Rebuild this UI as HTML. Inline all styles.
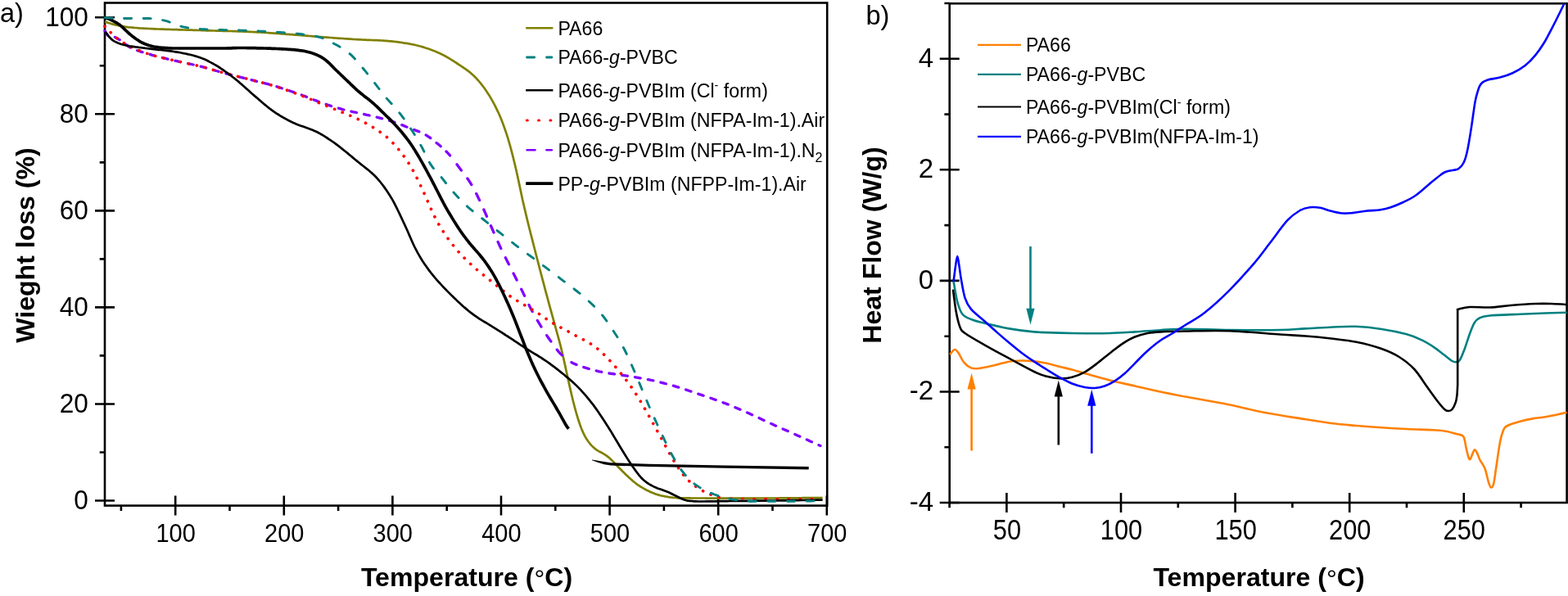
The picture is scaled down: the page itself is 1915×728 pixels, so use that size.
<!DOCTYPE html>
<html lang="en"><head><meta charset="utf-8"><title>TGA and DSC curves</title>
<style>
html,body{margin:0;padding:0;background:#fff;}
body{width:1915px;height:728px;overflow:hidden;}
svg{display:block;font-family:"Liberation Sans",Arial,Helvetica,sans-serif;}
.tk{font-size:29px;fill:#000;}
.lg{font-size:23.15px;fill:#000;}
.ti{font-size:32.1px;font-weight:bold;fill:#000;}
.ax{stroke:#000;stroke-width:2.6;fill:none;stroke-linecap:butt;}
.c{fill:none;stroke-linejoin:round;}
</style></head><body>
<svg width="1915" height="728" viewBox="0 0 1915 728">
<rect width="1915" height="728" fill="#fff"/>
<g id="panel-a">
<rect class="ax" x="128.0" y="3.5" width="882.2" height="614.1"/>
<path class="ax" d="M214.2 605.6 V629.6M346.8 605.6 V629.6M479.4 605.6 V629.6M612.0 605.6 V629.6M744.6 605.6 V629.6M877.2 605.6 V629.6M1009.8 605.6 V629.6M147.9 617.6 V623.9M280.5 617.6 V623.9M413.1 617.6 V623.9M545.7 617.6 V623.9M678.3 617.6 V623.9M810.9 617.6 V623.9M943.5 617.6 V623.9M116.0 611.5 H140.0M116.0 493.5 H140.0M116.0 375.4 H140.0M116.0 257.4 H140.0M116.0 139.3 H140.0M116.0 21.3 H140.0M121.7 552.5 H128.0M121.7 434.4 H128.0M121.7 316.4 H128.0M121.7 198.4 H128.0M121.7 80.3 H128.0"/>
<path class="c" d="M128 26.6L130 27.1L132 27.7L134 28.4L136 29.1L138 29.6L140 30.1L142 30.6L144 31.0L146 31.5L148 31.8L150 32.2L152 32.5L154 32.8L156 33.1L158 33.3L160 33.5L162 33.7L164 33.9L166 34.0L168 34.2L170 34.3L172 34.5L174 34.6L176 34.7L178 34.8L180 34.9L182 35.0L184 35.1L186 35.2L188 35.3L190 35.4L192 35.5L194 35.5L196 35.6L198 35.7L200 35.7L202.1 35.8L204.1 35.9L206.1 35.9L208.1 36.0L210.1 36.1L212.1 36.1L214.1 36.2L216.1 36.2L218.1 36.3L220.1 36.4L222.1 36.4L224.1 36.5L226.1 36.5L228.1 36.6L230.1 36.6L232.1 36.7L234.1 36.7L236.1 36.8L238.1 36.9L240.1 36.9L242.1 37.0L244.1 37.0L246.1 37.1L248.1 37.1L250.1 37.2L252.1 37.3L254.1 37.3L256.1 37.4L258.1 37.4L260.1 37.5L262.1 37.5L264.1 37.6L266.1 37.6L268.1 37.7L270.1 37.7L272.1 37.8L274.1 37.8L276.1 37.9L278.1 37.9L280.1 38.0L282.1 38.0L284.1 38.1L286.1 38.2L288.1 38.2L290.1 38.3L292.1 38.3L294.1 38.4L296.1 38.5L298.1 38.6L300.1 38.6L302.1 38.7L304.1 38.8L306.1 38.9L308.1 39.0L310.1 39.1L312.1 39.2L314.1 39.3L316.1 39.4L318.1 39.5L320.1 39.6L322.1 39.7L324.1 39.9L326.1 40.0L328.1 40.1L330.1 40.3L332.1 40.4L334.1 40.6L336.1 40.7L338.1 40.9L340.1 41.0L342.1 41.2L344.1 41.3L346.1 41.5L348.2 41.6L350.2 41.8L352.2 41.9L354.2 42.1L356.2 42.2L358.2 42.4L360.2 42.6L362.2 42.7L364.2 42.9L366.2 43.0L368.2 43.2L370.2 43.3L372.2 43.5L374.2 43.6L376.2 43.8L378.2 44.0L380.2 44.1L382.2 44.3L384.2 44.5L386.2 44.6L388.2 44.8L390.2 45.0L392.2 45.1L394.2 45.3L396.2 45.4L398.2 45.6L400.2 45.7L402.2 45.9L404.2 46.0L406.2 46.2L408.2 46.3L410.2 46.5L412.2 46.6L414.2 46.8L416.2 46.9L418.2 47.0L420.2 47.2L422.2 47.3L424.2 47.4L426.2 47.6L428.2 47.7L430.2 47.8L432.2 48.0L434.2 48.1L436.2 48.2L438.2 48.3L440.2 48.4L442.2 48.5L444.2 48.6L446.2 48.7L448.2 48.8L450.2 48.9L452.2 48.9L454.2 49.0L456.2 49.1L458.2 49.2L460.2 49.2L462.2 49.3L464.2 49.4L466.2 49.5L468.2 49.6L470.2 49.8L472.2 49.9L474.2 50.1L476.2 50.3L478.2 50.4L480.2 50.7L482.2 50.9L484.2 51.1L486.2 51.4L488.2 51.7L490.2 51.9L492.2 52.3L494.3 52.6L496.3 52.9L498.3 53.2L500.3 53.6L502.3 54.0L504.3 54.4L506.3 54.8L508.3 55.3L510.3 55.7L512.3 56.3L514.3 56.8L516.3 57.4L518.3 58.0L520.3 58.7L522.3 59.3L524.3 60.0L526.3 60.7L528.3 61.5L530.3 62.2L532.3 63.0L534.3 63.9L536.3 64.7L538.3 65.7L540.3 66.7L542.3 67.7L544.3 68.8L546.3 70.0L548.3 71.2L550.3 72.4L552.3 73.6L554.3 74.9L556.3 76.2L558.3 77.5L560.3 78.8L562.3 80.1L564.3 81.5L566.3 82.8L568.3 84.2L570.3 85.7L572.3 87.2L574.3 88.7L576.3 90.4L578.3 92.2L580.3 94.2L582.3 96.3L584.3 98.5L586.3 100.9L588.3 103.4L590.3 106.0L592.3 108.8L594.3 111.7L596.3 114.7L598.3 117.9L600.3 121.3L602.3 124.9L604.3 128.6L606.3 132.6L608.3 136.8L610.3 141.3L612.3 146.1L614.3 151.3L616.3 156.8L618.3 162.6L620.3 168.9L622.3 175.6L624.3 182.8L626.3 190.6L628.3 198.8L630.3 207.3L632.3 216.3L634.3 225.6L636.3 235.1L638.3 244.5L640.4 253.5L642.4 262.1L644.4 270.4L646.4 278.5L648.4 286.4L650.4 294.2L652.4 302.0L654.4 309.8L656.4 317.5L658.4 325.3L660.4 333.0L662.4 340.6L664.4 348.2L666.4 355.8L668.4 363.2L670.4 370.6L672.4 377.9L674.4 385.2L676.4 392.4L678.4 399.6L680.4 406.8L682.4 414.1L684.4 421.7L686.4 429.8L688.4 438.5L690.4 447.6L692.4 456.9L694.4 466.0L696.4 474.9L698.4 483.5L700.4 491.7L702.4 499.4L704.4 506.5L706.4 513.0L708.4 519.0L710.4 524.3L712.4 528.9L714.4 532.9L716.4 536.3L718.4 539.2L720.4 541.8L722.4 544.1L724.4 546.1L726.4 547.8L728.4 549.3L730.4 550.6L732.4 551.8L734.4 552.8L736.4 553.9L738.4 555.1L740.4 556.4L742.4 557.9L744.4 559.5L746.4 561.4L748.4 563.4L750.4 565.4L752.4 567.5L754.4 569.7L756.4 571.8L758.4 573.8L760.4 575.8L762.4 577.7L764.4 579.7L766.4 581.6L768.4 583.5L770.4 585.3L772.4 587.1L774.4 588.7L776.4 590.3L778.4 591.8L780.4 593.2L782.4 594.5L784.4 595.7L786.5 596.9L788.5 598.0L790.5 599.1L792.5 600.0L794.5 600.9L796.5 601.8L798.5 602.6L800.5 603.4L802.5 604.0L804.5 604.6L806.5 605.2L808.5 605.6L810.5 606.0L812.5 606.4L814.5 606.7L816.5 607.1L818.5 607.4L820.5 607.6L822.5 607.9L824.5 608.0L826.5 608.2L828.5 608.3L830.5 608.3L832.5 608.3L834.5 608.4L836.5 608.4L838.5 608.4L840.5 608.4L842.5 608.4L844.5 608.5L846.5 608.5L848.5 608.5L850.5 608.5L852.5 608.5L854.5 608.5L856.5 608.5L858.5 608.5L860.5 608.5L862.5 608.6L864.5 608.6L866.5 608.6L868.5 608.6L870.5 608.6L872.5 608.6L874.5 608.6L876.5 608.6L878.5 608.6L880.5 608.6L882.5 608.6L884.5 608.6L886.5 608.6L888.5 608.6L890.5 608.6L892.5 608.6L894.5 608.6L896.5 608.6L898.5 608.6L900.5 608.6L902.5 608.6L904.5 608.6L906.5 608.6L908.5 608.6L910.5 608.6L912.5 608.6L914.5 608.6L916.5 608.6L918.5 608.6L920.5 608.6L922.5 608.6L924.5 608.6L926.5 608.5L928.5 608.5L930.5 608.5L932.6 608.5L934.6 608.5L936.6 608.5L938.6 608.5L940.6 608.5L942.6 608.5L944.6 608.5L946.6 608.5L948.6 608.5L950.6 608.5L952.6 608.4L954.6 608.4L956.6 608.4L958.6 608.4L960.6 608.4L962.6 608.4L964.6 608.4L966.6 608.4L968.6 608.3L970.6 608.3L972.6 608.3L974.6 608.3L976.6 608.3L978.6 608.3L980.6 608.2L982.6 608.2L984.6 608.2L986.6 608.2L988.6 608.2L990.6 608.2L992.6 608.1L994.6 608.1L996.6 608.1L998.6 608.1L1000.6 608.0L1002.6 608.0L1004.6 608.0" stroke="#808000" stroke-width="2.7"/>
<path class="c" d="M128.0 37.6L130.0 41.1L132.0 43.8L134.0 44.6L136.0 44.6L138.0 44.6L140.0 45.2L142.0 46.2L144.0 47.4L146.0 48.6L148.0 50.0L150.0 51.5L152.0 53.0L154.0 54.5L156.0 56.0L158.0 57.3L160.0 58.4L162.0 59.3L164.0 60.2L166.0 61.0L168.0 61.8L170.0 62.5L172.0 63.1L174.0 63.7L176.0 64.4L178.0 65.0L180.0 65.6L182.0 66.1L184.0 66.7L186.0 67.3L188.0 67.8L190.0 68.4L192.0 68.9L194.0 69.4L196.0 69.9L198.0 70.4L200.0 70.9L202.0 71.4L204.0 71.8L206.0 72.3L208.0 72.8L210.0 73.3L212.0 73.7L214.0 74.2L216.0 74.6L218.0 75.1L220.0 75.5L222.0 76.0L224.0 76.4L226.0 76.8L228.0 77.2L230.0 77.7L232.0 78.1L234.0 78.5L236.0 79.0L238.0 79.4L240.0 79.9L242.0 80.4L244.0 80.9L246.0 81.4L248.0 81.9L250.0 82.4L252.0 83.0L254.0 83.6L256.0 84.1L258.0 84.7L260.0 85.3L262.0 85.9L264.0 86.5L266.0 87.0L268.0 87.6L270.0 88.2L272.0 88.7L274.0 89.2L276.0 89.8L278.0 90.3L280.0 90.8L282.0 91.3L284.0 91.8L286.0 92.3L288.0 92.8L290.0 93.3L292.0 93.8L294.0 94.3L296.0 94.8L298.0 95.3L300.0 95.8L302.0 96.3L304.0 96.8L306.0 97.4L308.0 97.9L310.0 98.4L312.0 98.9L314.0 99.4L316.0 99.9L318.0 100.4L320.0 100.9L322.0 101.4L324.0 101.9L326.0 102.4L328.0 102.9L330.0 103.5L332.0 104.0L334.0 104.6L336.0 105.2L338.0 105.8L340.0 106.4L342.0 107.0L344.0 107.7L346.0 108.3L348.0 109.0L350.0 109.6L352.0 110.3L354.0 111.0L356.0 111.7L358.0 112.4L360.0 113.1L362.0 113.8L364.0 114.5L366.0 115.2L368.0 115.9L370.0 116.7L372.0 117.4L374.0 118.2L376.0 119.0L378.0 119.8L380.0 120.6L382.0 121.4L384.0 122.2L386.0 122.9L388.0 123.7L390.0 124.5L392.0 125.2L394.0 125.9L396.0 126.6L398.0 127.3L400.0 128.0L402.0 128.7L404.0 129.3L406.0 129.9L408.0 130.6L410.0 131.2L412.0 131.8L414.0 132.3L416.0 132.9L418.0 133.5L420.0 134.0L422.0 134.5L424.0 135.0L426.0 135.4L428.0 135.9L430.0 136.3L432.0 136.8L434.0 137.2L436.0 137.6L438.0 138.1L440.0 138.5L442.0 138.9L444.0 139.4L446.0 139.8L448.0 140.3L450.0 140.7L452.0 141.2L454.0 141.7L456.0 142.2L458.0 142.6L460.0 143.1L462.0 143.6L464.0 144.2L466.0 144.7L468.0 145.2L470.0 145.8L472.0 146.4L474.0 146.9L476.0 147.5L478.0 148.2L480.0 148.8L482.0 149.4L484.0 150.1L486.0 150.8L488.0 151.6L490.0 152.3L492.0 153.1L494.0 153.9L496.0 154.8L498.0 155.6L500.0 156.4L502.0 157.2L504.0 157.9L506.0 158.6L508.0 159.4L510.0 160.1L512.0 160.9L514.0 161.7L516.0 162.6L518.0 163.6L520.0 164.8L522.0 166.1L524.0 167.4L526.0 168.9L528.0 170.4L530.0 172.0L532.0 173.6L534.0 175.2L536.0 176.8L538.0 178.5L540.0 180.3L542.0 182.1L544.0 184.0L546.0 186.0L548.0 188.2L550.0 190.4L552.0 192.9" stroke="#8000ff" stroke-width="3.3" stroke-linecap="round" stroke-dasharray="6.7 9.3"/>
<path class="c" d="M558.0 200.8L560.0 203.6L562.0 206.3L564.0 209.0L566.0 211.6L568.0 214.2L570.0 216.9L572.0 219.6L574.0 222.6L576.0 225.8L578.0 229.3L580.0 233.1L582.0 237.1L584.0 241.2L586.0 245.4L588.0 249.7L590.0 254.1L592.0 258.6L594.0 263.2L596.0 267.8L598.0 272.4L600.0 277.0L602.0 281.6L604.0 286.1L606.0 290.7L608.0 295.2L610.0 299.6L612.0 303.9L614.0 308.0L616.0 312.1L618.0 316.1L620.0 320.0L622.0 323.9L624.0 327.8L626.0 331.8L628.0 335.8L630.0 339.8L632.0 343.8L634.0 347.8L636.0 351.8L638.0 355.9L640.0 360.1L642.0 364.3L644.0 368.4L646.0 372.5L648.0 376.5L650.0 380.2L652.0 383.9L654.0 387.4L656.0 390.9L658.0 394.2L660.0 397.5L662.0 400.8L664.0 403.9L666.0 407.0L668.0 410.1L670.0 413.0L672.0 415.9L674.0 418.7L676.0 421.5L678.0 424.2L680.0 426.8L682.0 429.3L684.0 431.6L686.0 433.6L688.0 435.5L690.0 437.2" stroke="#8000ff" stroke-width="3.3" stroke-linecap="round" stroke-dasharray="9 12.5"/>
<path class="c" d="M698.0 442.6L700.0 443.7L702.0 444.6L704.0 445.4L706.0 446.2L708.0 446.9L710.0 447.6L712.0 448.3L714.0 448.9L716.0 449.5L718.0 450.1L720.0 450.7L722.0 451.2L724.0 451.8L726.0 452.3L728.0 452.8L730.0 453.3L732.0 453.8L734.0 454.2L736.0 454.6L738.0 455.0L740.0 455.3L742.0 455.6L744.0 456.0L746.0 456.3L748.0 456.5L750.0 456.8L752.0 457.1L754.0 457.4L756.0 457.7L758.0 458.0L760.0 458.3L762.0 458.6L764.0 458.9L766.0 459.2L768.0 459.5L770.0 459.8L772.0 460.2L774.0 460.5L776.0 460.8L778.0 461.1L780.0 461.5L782.0 461.8L784.0 462.1L786.0 462.5L788.0 462.9L790.0 463.3L792.0 463.7L794.0 464.1L796.0 464.5L798.0 464.9L800.0 465.4L802.0 465.9L804.0 466.3L806.0 466.8L808.0 467.3L810.0 467.8L812.0 468.4L814.0 468.9L816.0 469.5L818.0 470.0L820.0 470.6L822.0 471.1L824.0 471.7L826.0 472.3L828.0 472.9L830.0 473.5L832.0 474.1L834.0 474.8L836.0 475.4L838.0 476.1L840.0 476.8L842.0 477.5L844.0 478.1L846.0 478.8L848.0 479.5L850.0 480.2L852.0 480.9L854.0 481.6L856.0 482.2L858.0 482.9L860.0 483.6L862.0 484.3L864.0 485.0L866.0 485.6L868.0 486.3L870.0 487.0L872.0 487.7L874.0 488.4L876.0 489.1L878.0 489.9L880.0 490.6L882.0 491.3L884.0 492.1L886.0 492.8L888.0 493.6L890.0 494.4L892.0 495.2L894.0 496.0L896.0 496.9L898.0 497.7L900.0 498.5L902.0 499.4L904.0 500.2L906.0 501.1L908.0 502.0L910.0 502.8L912.0 503.7L914.0 504.6L916.0 505.5L918.0 506.4L920.0 507.3L922.0 508.2L924.0 509.1L926.0 510.0L928.0 511.0L930.0 511.9L932.0 512.9L934.0 513.8L936.0 514.7L938.0 515.7L940.0 516.6L942.0 517.6L944.0 518.5L946.0 519.4L948.0 520.3L950.0 521.2L952.0 522.1L954.0 523.0L956.0 523.9L958.0 524.8L960.0 525.6L962.0 526.5L964.0 527.4L966.0 528.3L968.0 529.2L970.0 530.1L972.0 531.0L974.0 531.9L976.0 532.8L978.0 533.7L980.0 534.6L982.0 535.5L984.0 536.4L986.0 537.3L988.0 538.2L990.0 539.2L992.0 540.1L994.0 541.0L996.0 541.9L998.0 542.9L1000.0 543.7L1002.0 544.5" stroke="#8000ff" stroke-width="3.3" stroke-linecap="round" stroke-dasharray="6.7 9.3"/>
<path class="c" d="M128.0 32.1L130.0 33.8L132.0 36.0L134.0 38.3L136.0 40.5L138.0 42.4L140.0 44.2L142.0 46.0L144.0 47.6L146.0 49.1L148.0 50.5L150.0 51.7L152.0 53.0L154.0 54.1L156.0 55.2L158.0 56.3L160.0 57.3L162.0 58.2L164.0 59.2L166.0 60.1L168.0 61.0L170.0 61.8L172.0 62.6L174.0 63.4L176.0 64.1L178.0 64.8L180.0 65.5L182.0 66.1L184.0 66.8L186.0 67.4L188.0 67.9L190.0 68.5L192.0 69.0L194.0 69.5L196.0 70.0L198.0 70.5L200.0 71.0L202.0 71.4L204.0 71.9L206.0 72.3L208.0 72.8L210.0 73.3L212.0 73.7L214.0 74.2L216.0 74.6L218.0 75.1L220.0 75.5L222.0 76.0L224.0 76.4L226.0 76.8L228.0 77.2L230.0 77.7L232.0 78.1L234.0 78.5L236.0 79.0L238.0 79.4L240.0 79.9L242.0 80.4L244.0 80.9L246.0 81.4L248.0 81.9L250.0 82.4L252.0 83.0L254.0 83.6L256.0 84.1L258.0 84.7L260.0 85.3L262.0 85.9L264.0 86.5L266.0 87.0L268.0 87.6L270.0 88.2L272.0 88.7L274.0 89.2L276.0 89.8L278.0 90.3L280.0 90.8L282.0 91.3L284.0 91.8L286.0 92.3L288.0 92.8L290.0 93.3L292.0 93.8L294.0 94.3L296.0 94.8L298.0 95.3L300.0 95.8L302.0 96.3L304.0 96.8L306.0 97.4L308.0 97.9L310.0 98.4L312.0 98.9L314.0 99.4L316.0 99.9L318.0 100.4L320.0 100.9L322.0 101.5L324.0 102.0L326.0 102.5L328.0 103.1L330.0 103.6L332.0 104.2L334.0 104.8L336.0 105.4L338.0 106.0L340.0 106.6L342.0 107.3L344.0 108.0L346.0 108.6L348.0 109.3L350.0 110.0L352.0 110.7L354.0 111.5L356.0 112.2L358.0 112.9L360.0 113.7L362.0 114.4L364.0 115.2L366.0 115.9L368.0 116.7L370.0 117.5L372.0 118.2L374.0 119.0L376.0 119.9L378.0 120.7L380.0 121.5L382.0 122.3L384.0 123.2L386.0 124.0L388.0 124.9L390.0 125.7L392.0 126.5L394.0 127.4L396.0 128.2L398.0 129.0L400.0 129.8L402.0 130.6L404.0 131.4L406.0 132.2L408.0 133.1L410.0 133.9L412.0 134.7L414.0 135.5L416.0 136.3L418.0 137.2L420.0 138.0L422.0 138.8L424.0 139.7L426.0 140.5L428.0 141.4L430.0 142.2L432.0 143.1L434.0 144.0L436.0 144.9L438.0 145.9L440.0 146.8L442.0 147.8L444.0 148.9L446.0 150.0L448.0 151.1L450.0 152.2L452.0 153.4L454.0 154.6L456.0 155.8L458.0 157.0L460.0 158.3L462.0 159.6L464.0 161.0L466.0 162.4L468.0 163.9L470.0 165.4L472.0 167.1L474.0 168.9L476.0 170.8L478.0 172.7L480.0 174.8L482.0 177.0L484.0 179.2L486.0 181.6L488.0 184.0L490.0 186.5L492.0 189.1L494.0 191.8L496.0 194.6L498.0 197.6L500.0 200.7L502.0 204.0L504.0 207.5L506.0 211.2L508.0 215.1L510.0 219.1L512.0 223.3L514.0 227.5L516.0 231.7L518.0 236.1L520.0 240.5L522.0 245.1L524.0 249.7L526.0 254.2L528.0 258.7L530.0 262.9L532.0 266.9L534.0 270.7L536.0 274.2L538.0 277.6L540.0 280.8L542.0 283.9L544.0 287.0L546.0 289.8L548.0 292.6L550.0 295.3L552.0 297.9L554.0 300.4L556.0 302.8L558.0 305.2L560.0 307.5L562.0 309.7L564.0 311.8L566.0 313.9L568.0 316.0L570.0 318.0L572.0 319.9L574.0 321.8L576.0 323.7L578.0 325.5L580.0 327.3L582.0 329.0L584.0 330.6L586.0 332.3L588.0 333.9L590.0 335.5L592.0 337.1L594.0 338.7L596.0 340.3L598.0 341.9L600.0 343.5L602.0 345.1L604.0 346.7L606.0 348.3L608.0 349.9L610.0 351.5L612.0 353.1L614.0 354.7L616.0 356.4L618.0 358.0L620.0 359.6L622.0 361.1L624.0 362.5L626.0 363.9L628.0 365.2L630.0 366.4L632.0 367.6L634.0 368.8L636.0 370.0L638.0 371.1L640.0 372.3L642.0 373.5L644.0 374.7L646.0 375.8L648.0 377.0L650.0 378.2L652.0 379.4L654.0 380.7L656.0 381.9L658.0 383.2L660.0 384.5L662.0 385.9L664.0 387.3L666.0 388.7L668.0 390.0L670.0 391.4L672.0 392.6L674.0 393.9L676.0 395.1L678.0 396.3L680.0 397.4L682.0 398.5L684.0 399.6L686.0 400.7L688.0 401.7L690.0 402.8L692.0 403.9L694.0 404.9L696.0 406.0L698.0 407.1L700.0 408.2L702.0 409.3L704.0 410.4L706.0 411.4L708.0 412.5L710.0 413.5L712.0 414.6L714.0 415.7L716.0 416.8L718.0 417.9L720.0 419.1L722.0 420.4L724.0 421.7L726.0 423.1L728.0 424.6L730.0 426.2L732.0 427.9L734.0 429.7L736.0 431.6L738.0 433.5L740.0 435.5L742.0 437.5L744.0 439.6L746.0 441.7L748.0 443.9L750.0 446.2L752.0 448.5L754.0 450.8L756.0 453.2L758.0 455.7L760.0 458.1L762.0 460.7L764.0 463.2L766.0 465.9L768.0 468.6L770.0 471.3L772.0 474.2L774.0 477.1L776.0 480.1L778.0 483.2L780.0 486.4L782.0 489.7L784.0 493.1L786.0 496.6L788.0 500.1L790.0 503.6L792.0 507.2L794.0 510.7L796.0 514.3L798.0 517.9L800.0 521.5L802.0 525.1L804.0 528.7L806.0 532.3L808.0 536.0L810.0 539.7L812.0 543.4L814.0 547.1L816.0 550.8L818.0 554.4L820.0 557.9L822.0 561.3L824.0 564.5L826.0 567.7L828.0 570.7L830.0 573.7L832.0 576.5L834.0 579.2L836.0 581.6L838.0 583.9L840.0 586.0L842.0 587.9L844.0 589.7L846.0 591.4L848.0 593.0L850.0 594.4L852.0 595.8L854.0 597.1L856.0 598.3L858.0 599.4L860.0 600.5L862.0 601.5L864.0 602.5L866.0 603.4L868.0 604.1L870.0 604.8L872.0 605.5L874.0 606.1L876.0 606.7L878.0 607.2L880.0 607.6" stroke="#f00" stroke-width="3.7" stroke-linecap="round" stroke-dasharray="0.1 10.3"/>
<path class="c" d="M892.0 608.7L894.0 608.8L896.0 608.8L898.0 608.9L900.0 609.0L902.0 609.0L904.0 609.1L906.0 609.1L908.0 609.1L910.0 609.2L912.0 609.2L914.0 609.2L916.0 609.2L918.0 609.2L920.0 609.2L922.0 609.2L924.0 609.2L926.0 609.2L928.0 609.2L930.0 609.2L932.0 609.2L934.0 609.2L936.0 609.2L938.0 609.2L940.0 609.2L942.0 609.2L944.0 609.2L946.0 609.2L948.0 609.2L950.0 609.2L952.0 609.2L954.0 609.2L956.0 609.2L958.0 609.2L960.0 609.2L962.0 609.2L964.0 609.2L966.0 609.2L968.0 609.2L970.0 609.2L972.0 609.2L974.0 609.2L976.0 609.2L978.0 609.2L980.0 609.2L982.0 609.2L984.0 609.2L986.0 609.2L988.0 609.2L990.0 609.2L992.0 609.2L994.0 609.2L996.0 609.2L998.0 609.2L1000.0 609.2L1002.0 609.2L1004.0 609.2" stroke="#f00" stroke-width="2.5" stroke-linecap="round" stroke-dasharray="1.6 12.5"/>
<path class="c" d="M128 38.6L130 40.7L132 43.4L134 45.8L136 47.8L138 49.3L140 50.6L142 51.6L144 52.5L146 53.3L148 54.0L150 54.5L152 55.0L154 55.5L156 55.9L158 56.3L160 56.6L162 56.9L164 57.2L166 57.5L168 57.7L170 58.0L172 58.2L174 58.5L176 58.7L178 59.0L180 59.2L182 59.5L184 59.7L186 59.9L188 60.2L190 60.4L192 60.6L194 60.8L196 61.0L198 61.2L200 61.5L202.1 61.7L204.1 61.9L206.1 62.2L208.1 62.4L210.1 62.7L212.1 63.0L214.1 63.3L216.1 63.6L218.1 63.9L220.1 64.3L222.1 64.7L224.1 65.1L226.1 65.5L228.1 65.9L230.1 66.4L232.1 66.8L234.1 67.3L236.1 67.8L238.1 68.4L240.1 68.9L242.1 69.6L244.1 70.2L246.1 70.9L248.1 71.7L250.1 72.6L252.1 73.5L254.1 74.5L256.1 75.6L258.1 76.6L260.1 77.7L262.1 78.9L264.1 80.0L266.1 81.2L268.1 82.5L270.1 83.8L272.1 85.2L274.1 86.6L276.1 88.0L278.1 89.4L280.1 90.9L282.1 92.4L284.1 94.0L286.1 95.5L288.1 97.1L290.1 98.7L292.1 100.4L294.1 102.2L296.1 103.9L298.1 105.7L300.1 107.5L302.1 109.3L304.1 111.1L306.1 112.9L308.1 114.7L310.1 116.4L312.1 118.1L314.1 119.8L316.1 121.6L318.1 123.3L320.1 125.0L322.1 126.7L324.1 128.4L326.1 130.0L328.1 131.6L330.1 133.2L332.1 134.7L334.1 136.1L336.1 137.5L338.1 138.8L340.1 140.0L342.1 141.3L344.1 142.5L346.1 143.7L348.2 144.8L350.2 145.9L352.2 147.0L354.2 148.0L356.2 149.0L358.2 149.9L360.2 150.8L362.2 151.7L364.2 152.5L366.2 153.2L368.2 153.9L370.2 154.6L372.2 155.3L374.2 156.0L376.2 156.7L378.2 157.4L380.2 158.2L382.2 159.0L384.2 159.9L386.2 160.8L388.2 161.8L390.2 162.9L392.2 164.0L394.2 165.2L396.2 166.4L398.2 167.7L400.2 169.0L402.2 170.3L404.2 171.6L406.2 173.0L408.2 174.4L410.2 175.9L412.2 177.4L414.2 178.9L416.2 180.5L418.2 182.1L420.2 183.7L422.2 185.3L424.2 186.9L426.2 188.6L428.2 190.2L430.2 191.9L432.2 193.6L434.2 195.2L436.2 196.9L438.2 198.5L440.2 200.1L442.2 201.7L444.2 203.3L446.2 204.9L448.2 206.4L450.2 208.0L452.2 209.7L454.2 211.4L456.2 213.3L458.2 215.2L460.2 217.3L462.2 219.6L464.2 222.0L466.2 224.5L468.2 227.1L470.2 229.9L472.2 232.8L474.2 235.8L476.2 238.9L478.2 242.2L480.2 245.7L482.2 249.5L484.2 253.4L486.2 257.5L488.2 261.7L490.2 265.9L492.2 270.2L494.3 274.6L496.3 279.0L498.3 283.5L500.3 288.1L502.3 292.7L504.3 297.2L506.3 301.5L508.3 305.4L510.3 309.1L512.3 312.6L514.3 316.0L516.3 319.2L518.3 322.2L520.3 325.1L522.3 327.9L524.3 330.6L526.3 333.2L528.3 335.7L530.3 338.1L532.3 340.5L534.3 342.8L536.3 345.0L538.3 347.2L540.3 349.4L542.3 351.5L544.3 353.5L546.3 355.6L548.3 357.6L550.3 359.6L552.3 361.6L554.3 363.5L556.3 365.4L558.3 367.4L560.3 369.2L562.3 371.1L564.3 372.9L566.3 374.7L568.3 376.4L570.3 378.1L572.3 379.8L574.3 381.4L576.3 382.9L578.3 384.4L580.3 385.9L582.3 387.2L584.3 388.6L586.3 389.9L588.3 391.1L590.3 392.3L592.3 393.5L594.3 394.7L596.3 395.9L598.3 397.1L600.3 398.4L602.3 399.6L604.3 400.8L606.3 402.1L608.3 403.4L610.3 404.6L612.3 405.9L614.3 407.2L616.3 408.5L618.3 409.8L620.3 411.0L622.3 412.3L624.3 413.6L626.3 414.9L628.3 416.3L630.3 417.6L632.3 418.9L634.3 420.3L636.3 421.6L638.3 422.9L640.4 424.3L642.4 425.6L644.4 426.8L646.4 428.1L648.4 429.4L650.4 430.6L652.4 431.8L654.4 433.0L656.4 434.2L658.4 435.5L660.4 436.7L662.4 438.0L664.4 439.3L666.4 440.6L668.4 442.0L670.4 443.4L672.4 444.9L674.4 446.3L676.4 447.8L678.4 449.4L680.4 450.9L682.4 452.5L684.4 454.1L686.4 455.7L688.4 457.3L690.4 459.0L692.4 460.6L694.4 462.3L696.4 464.0L698.4 465.8L700.4 467.6L702.4 469.4L704.4 471.4L706.4 473.4L708.4 475.4L710.4 477.6L712.4 479.8L714.4 482.1L716.4 484.4L718.4 486.8L720.4 489.3L722.4 491.8L724.4 494.4L726.4 497.1L728.4 499.9L730.4 502.7L732.4 505.7L734.4 508.7L736.4 511.7L738.4 514.8L740.4 517.9L742.4 521.0L744.4 524.2L746.4 527.4L748.4 530.7L750.4 534.1L752.4 537.5L754.4 540.8L756.4 544.2L758.4 547.5L760.4 550.8L762.4 554.0L764.4 557.2L766.4 560.4L768.4 563.5L770.4 566.6L772.4 569.5L774.4 572.3L776.4 575.1L778.4 577.8L780.4 580.4L782.4 582.7L784.4 584.8L786.5 586.7L788.5 588.3L790.5 589.8L792.5 591.1L794.5 592.3L796.5 593.4L798.5 594.4L800.5 595.3L802.5 596.2L804.5 596.9L806.5 597.6L808.5 598.3L810.5 599.0L812.5 599.8L814.5 600.5L816.5 601.3L818.5 602.2L820.5 603.2L822.5 604.3L824.5 605.3L826.5 606.3L828.5 607.3L830.5 608.3L832.5 609.2L834.5 610.1L836.5 610.8L838.5 611.3L840.5 611.6L842.5 611.8L844.5 612.0L846.5 612.2L848.5 612.3L850.5 612.4L852.5 612.5L854.5 612.5L856.5 612.5L858.5 612.5L860.5 612.5L862.5 612.4L864.5 612.4L866.5 612.4L868.5 612.4L870.5 612.3L872.5 612.3L874.5 612.3L876.5 612.2L878.5 612.2L880.5 612.2L882.5 612.1L884.5 612.1L886.5 612.1L888.5 612.1L890.5 612.0L892.5 612.0L894.5 612.0L896.5 612.0L898.5 612.0L900.5 611.9L902.5 611.9L904.5 611.9L906.5 611.9L908.5 611.9L910.5 611.8L912.5 611.8L914.5 611.8L916.5 611.8L918.5 611.8L920.5 611.8L922.5 611.7L924.5 611.7L926.5 611.7L928.5 611.7L930.5 611.7L932.6 611.6L934.6 611.6L936.6 611.6L938.6 611.6L940.6 611.6L942.6 611.5L944.6 611.5L946.6 611.5L948.6 611.5L950.6 611.4L952.6 611.4L954.6 611.4L956.6 611.4L958.6 611.3L960.6 611.3L962.6 611.3L964.6 611.3L966.6 611.2L968.6 611.2L970.6 611.2L972.6 611.1L974.6 611.1L976.6 611.1L978.6 611.0L980.6 611.0L982.6 611.0L984.6 610.9L986.6 610.9L988.6 610.9L990.6 610.8L992.6 610.8L994.6 610.8L996.6 610.7L998.6 610.7L1000.6 610.7L1002.6 610.6L1004.6 610.6" stroke="#000" stroke-width="2.7"/>
<path class="c" d="M128 21.8L130 22.2L132 22.8L134 23.6L136 24.5L138 25.5L140 26.6L142 27.7L144 28.9L146 30.3L148 31.9L150 33.7L152 35.6L154 37.5L156 39.4L158 41.3L160 42.9L162 44.5L164 46.0L166 47.5L168 48.8L170 50.1L172 51.3L174 52.3L176 53.2L178 54.0L180 54.7L182 55.4L184 56.0L186.1 56.6L188.1 57.0L190.1 57.3L192.1 57.6L194.1 57.9L196.1 58.1L198.1 58.3L200.1 58.4L202.1 58.6L204.1 58.7L206.1 58.8L208.1 58.9L210.1 59.0L212.1 59.0L214.1 59.0L216.1 59.0L218.1 59.0L220.1 59.0L222.1 59.0L224.1 59.0L226.1 59.0L228.1 59.0L230.1 59.0L232.1 59.0L234.1 59.0L236.1 59.0L238.1 59.0L240.1 59.0L242.1 59.0L244.1 59.0L246.1 59.0L248.1 59.0L250.1 59.0L252.1 59.0L254.1 59.0L256.1 59.0L258.1 59.0L260.1 59.0L262.1 59.0L264.1 59.0L266.1 59.0L268.1 59.0L270.1 59.0L272.1 59.0L274.1 59.0L276.1 59.0L278.1 58.9L280.1 58.9L282.1 58.8L284.1 58.7L286.1 58.6L288.1 58.6L290.1 58.5L292.1 58.5L294.1 58.5L296.1 58.5L298.2 58.5L300.2 58.5L302.2 58.6L304.2 58.6L306.2 58.6L308.2 58.7L310.2 58.7L312.2 58.7L314.2 58.8L316.2 58.8L318.2 58.9L320.2 58.9L322.2 59.0L324.2 59.0L326.2 59.1L328.2 59.2L330.2 59.2L332.2 59.3L334.2 59.4L336.2 59.4L338.2 59.5L340.2 59.6L342.2 59.7L344.2 59.8L346.2 59.9L348.2 60.0L350.2 60.1L352.2 60.3L354.2 60.4L356.2 60.6L358.2 60.7L360.2 60.9L362.2 61.1L364.2 61.3L366.2 61.6L368.2 61.8L370.2 62.2L372.2 62.5L374.2 63.0L376.2 63.5L378.2 64.0L380.2 64.6L382.2 65.2L384.2 65.9L386.2 66.7L388.2 67.6L390.2 68.6L392.2 69.7L394.2 70.9L396.2 72.3L398.2 73.8L400.2 75.5L402.2 77.3L404.2 79.4L406.2 81.4L408.2 83.5L410.2 85.5L412.3 87.4L414.3 89.3L416.3 91.3L418.3 93.2L420.3 95.1L422.3 97.0L424.3 98.9L426.3 100.8L428.3 102.8L430.3 104.7L432.3 106.6L434.3 108.5L436.3 110.3L438.3 112.0L440.3 113.7L442.3 115.3L444.3 116.9L446.3 118.4L448.3 119.9L450.3 121.5L452.3 123.1L454.3 124.8L456.3 126.5L458.3 128.4L460.3 130.2L462.3 132.1L464.3 134.1L466.3 136.1L468.3 138.0L470.3 140.0L472.3 142.0L474.3 143.9L476.3 145.9L478.3 147.9L480.3 150.0L482.3 152.0L484.3 154.2L486.3 156.4L488.3 158.7L490.3 161.0L492.3 163.5L494.3 166.0L496.3 168.5L498.3 171.2L500.3 173.9L502.3 176.8L504.3 179.8L506.3 182.9L508.3 186.2L510.3 189.5L512.3 192.9L514.3 196.4L516.3 199.9L518.3 203.5L520.3 207.1L522.3 210.8L524.3 214.6L526.4 218.4L528.4 222.3L530.4 226.2L532.4 230.1L534.4 234.0L536.4 237.9L538.4 241.8L540.4 245.7L542.4 249.5L544.4 253.1L546.4 256.6L548.4 260.0L550.4 263.3L552.4 266.6L554.4 269.9L556.4 273.1L558.4 276.2L560.4 279.3L562.4 282.2L564.4 285.1L566.4 287.8L568.4 290.5L570.4 293.1L572.4 295.7L574.4 298.1L576.4 300.5L578.4 302.8L580.4 305.1L582.4 307.3L584.4 309.6L586.4 312.0L588.4 314.5L590.4 317.0L592.4 319.7L594.4 322.5L596.4 325.4L598.4 328.4L600.4 331.6L602.4 334.9L604.4 338.4L606.4 342.0L608.4 345.8L610.4 349.8L612.4 353.8L614.4 358.0L616.4 362.3L618.4 366.6L620.4 371.0L622.4 375.6L624.4 380.2L626.4 385.0L628.4 389.9L630.4 395.0L632.4 400.1L634.4 405.3L636.4 410.5L638.5 415.8L640.5 421.1L642.5 426.2L644.5 431.1L646.5 435.8L648.5 440.4L650.5 444.9L652.5 449.3L654.5 453.5L656.5 457.5L658.5 461.5L660.5 465.3L662.5 469.0L664.5 472.7L666.5 476.3L668.5 479.8L670.5 483.3L672.5 486.7L674.5 490.1L676.5 493.4L678.5 496.8L680.5 500.2L682.5 503.7L684.5 507.2L686.5 510.8L688.5 514.4L690.5 518.0L692.5 521.3L694.5 523.7" stroke="#000" stroke-width="3.7"/>
<path class="c" d="M128 21.6L130 21.6L132 21.8L134 21.9L136 22.0L138 22.1L140 22.2L142 22.3L144 22.4L146 22.4L148 22.5L150 22.5L152 22.5L154 22.5L156 22.5L158 22.5L160 22.5L162 22.5L164 22.5L166 22.5L168 22.5L170 22.5L172 22.5L174 22.5L176 22.5L178 22.5L180 22.5L182 22.5L184 22.6L186 22.7L188 22.9L190 23.1L192 23.4L194 23.8L196 24.1L198 24.5L200 24.9L202.1 25.4L204.1 25.9L206.1 26.6L208.1 27.4L210.1 28.3L212.1 29.2L214.1 30.1L216.1 30.8L218.1 31.5L220.1 32.0L222.1 32.5L224.1 32.9L226.1 33.2L228.1 33.6L230.1 33.9L232.1 34.2L234.1 34.5L236.1 34.8L238.1 35.0L240.1 35.2L242.1 35.3L244.1 35.5L246.1 35.6L248.1 35.7L250.1 35.8L252.1 35.9L254.1 36.0L256.1 36.0L258.1 36.1L260.1 36.2L262.1 36.3L264.1 36.3L266.1 36.4L268.1 36.4L270.1 36.5L272.1 36.5L274.1 36.6L276.1 36.6L278.1 36.7L280.1 36.7L282.1 36.8L284.1 36.8L286.1 36.9L288.1 36.9L290.1 37.0L292.1 37.0L294.1 37.1L296.1 37.2L298.1 37.2L300.1 37.3L302.1 37.4L304.1 37.5L306.1 37.6L308.1 37.7L310.1 37.8L312.1 37.8L314.1 37.9L316.1 38.0L318.1 38.1L320.1 38.2L322.1 38.3L324.1 38.4L326.1 38.6L328.1 38.7L330.1 38.8L332.1 38.9L334.1 39.0L336.1 39.1L338.1 39.3L340.1 39.4L342.1 39.5L344.1 39.7L346.1 39.8L348.2 40.0L350.2 40.1L352.2 40.3L354.2 40.4L356.2 40.6L358.2 40.8L360.2 41.0L362.2 41.1L364.2 41.3L366.2 41.5L368.2 41.7L370.2 42.0L372.2 42.2L374.2 42.4L376.2 42.7L378.2 43.0L380.2 43.3L382.2 43.7L384.2 44.1L386.2 44.5L388.2 44.9L390.2 45.4L392.2 46.0L394.2 46.7L396.2 47.4L398.2 48.3L400.2 49.3L402.2 50.3L404.2 51.4L406.2 52.4L408.2 53.5L410.2 54.5L412.2 55.6L414.2 56.8L416.2 58.0L418.2 59.2L420.2 60.5L422.2 61.9L424.2 63.3L426.2 64.9L428.2 66.6L430.2 68.4L432.2 70.5L434.2 72.7L436.2 75.0L438.2 77.3L440.2 79.7L442.2 82.0L444.2 84.5L446.2 86.9L448.2 89.4L450.2 91.9L452.2 94.5L454.2 97.0L456.2 99.6L458.2 102.2L460.2 104.8L462.2 107.5L464.2 110.1L466.2 112.7L468.2 115.3L470.2 117.7L472.2 120.1L474.2 122.4L476.2 124.6L478.2 126.7L480.2 128.9L482.2 131.1L484.2 133.4L486.2 135.8L488.2 138.3L490.2 140.9L492.2 143.6L494.3 146.4L496.3 149.3L498.3 152.2L500.3 155.2L502.3 158.2L504.3 161.3L506.3 164.5L508.3 167.8L510.3 171.1L512.3 174.6L514.3 178.1L516.3 181.8L518.3 185.8L520.3 190.0L522.3 194.2L524.3 198.0L526.3 201.4L528.3 204.2L530.3 206.6L532.3 208.8L534.3 210.9L536.3 213.1L538.3 215.5L540.3 218.1L542.3 220.7L544.3 223.3L546.3 225.9L548.3 228.3L550.3 230.7L552.3 233.0L554.3 235.3L556.3 237.6L558.3 239.7L560.3 241.9L562.3 244.0L564.3 246.0L566.3 248.0L568.3 249.9L570.3 251.8L572.3 253.6L574.3 255.3L576.3 257.0L578.3 258.6L580.3 260.2L582.3 261.8L584.3 263.4L586.3 264.9L588.3 266.5L590.3 268.0L592.3 269.6L594.3 271.2L596.3 272.8L598.3 274.5L600.3 276.1L602.3 277.7L604.3 279.3L606.3 280.9L608.3 282.5L610.3 284.1L612.3 285.7L614.3 287.3L616.3 288.9L618.3 290.5L620.3 292.1L622.3 293.6L624.3 295.2L626.3 296.7L628.3 298.3L630.3 299.8L632.3 301.3L634.3 302.8L636.3 304.3L638.3 305.8L640.4 307.3L642.4 308.8L644.4 310.3L646.4 311.8L648.4 313.2L650.4 314.7L652.4 316.2L654.4 317.7L656.4 319.2L658.4 320.7L660.4 322.2L662.4 323.7L664.4 325.2L666.4 326.7L668.4 328.2L670.4 329.7L672.4 331.2L674.4 332.7L676.4 334.2L678.4 335.7L680.4 337.2L682.4 338.7L684.4 340.3L686.4 341.8L688.4 343.3L690.4 344.8L692.4 346.4L694.4 347.9L696.4 349.4L698.4 350.9L700.4 352.4L702.4 354.0L704.4 355.5L706.4 357.1L708.4 358.7L710.4 360.4L712.4 362.0L714.4 363.7L716.4 365.5L718.4 367.3L720.4 369.1L722.4 371.0L724.4 372.9L726.4 374.9L728.4 376.9L730.4 379.0L732.4 381.2L734.4 383.5L736.4 386.0L738.4 388.6L740.4 391.3L742.4 394.1L744.4 397.1L746.4 400.1L748.4 403.1L750.4 406.2L752.4 409.3L754.4 412.5L756.4 415.8L758.4 419.2L760.4 422.8L762.4 426.5L764.4 430.5L766.4 434.7L768.4 439.0L770.4 443.5L772.4 448.0L774.4 452.6L776.4 457.3L778.4 461.9L780.4 466.7L782.4 471.6L784.4 476.5L786.5 481.4L788.5 486.2L790.5 491.0L792.5 495.7L794.5 500.3L796.5 504.8L798.5 509.2L800.5 513.6L802.5 518.0L804.5 522.3L806.5 526.6L808.5 530.8L810.5 535.1L812.5 539.3L814.5 543.5L816.5 547.6L818.5 551.5L820.5 555.3L822.5 558.9L824.5 562.4L826.5 565.7L828.5 568.8L830.5 571.8L832.5 574.6L834.5 577.2L836.5 579.7L838.5 582.0L840.5 584.1L842.5 586.1L844.5 588.0L846.5 589.7L848.5 591.3L850.5 592.8L852.5 594.1L854.5 595.4L856.5 596.6L858.5 597.7L860.5 598.7L862.5 599.7L864.5 600.7L866.5 601.6L868.5 602.4L870.5 603.2L872.5 604.0L874.5 604.7L876.5 605.4L878.5 606.0L880.5 606.6L882.5 607.1L884.5 607.7L886.5 608.2L888.5 608.7L890.5 609.2L892.5 609.6L894.5 610.0L896.5 610.3L898.5 610.6L900.5 610.8L902.5 611.1L904.5 611.3L906.5 611.5L908.5 611.6L910.5 611.8L912.5 611.9L914.5 612.1L916.5 612.2L918.5 612.2L920.5 612.3L922.5 612.3L924.5 612.3L926.5 612.3L928.5 612.3L930.5 612.3L932.6 612.3L934.6 612.3L936.6 612.3L938.6 612.3L940.6 612.3L942.6 612.3L944.6 612.3L946.6 612.3L948.6 612.3L950.6 612.3L952.6 612.3L954.6 612.3L956.6 612.3L958.6 612.2L960.6 612.2L962.6 612.2L964.6 612.2L966.6 612.2L968.6 612.2L970.6 612.2L972.6 612.2L974.6 612.1L976.6 612.1L978.6 612.1L980.6 612.1L982.6 612.1L984.6 612.0L986.6 612.0L988.6 612.0L990.6 612.0L992.6 611.9L994.6 611.9L996.6 611.9L998.6 611.8L1000.6 611.8L1002.6 611.7L1004.6 611.7" stroke="#008080" stroke-width="2.9" stroke-linecap="round" stroke-dasharray="9 14.6"/>
<path d="M723 561.5L735 563.5L746 565.2L792.3 566.7L884.6 568.4L987.7 570L987.7 573.4L884.6 571.8L792.3 570.1L746 568.6L738 567.2L730 564.8L723 562.3Z" fill="#000"/>
<text class="tk" transform="translate(214.6 662.3) scale(1 1.075)" text-anchor="middle">100</text>
<text class="tk" transform="translate(347.2 662.3) scale(1 1.075)" text-anchor="middle">200</text>
<text class="tk" transform="translate(479.8 662.3) scale(1 1.075)" text-anchor="middle">300</text>
<text class="tk" transform="translate(612.4 662.3) scale(1 1.075)" text-anchor="middle">400</text>
<text class="tk" transform="translate(745.0 662.3) scale(1 1.075)" text-anchor="middle">500</text>
<text class="tk" transform="translate(877.6 662.3) scale(1 1.075)" text-anchor="middle">600</text>
<text class="tk" transform="translate(1010.2 662.3) scale(1 1.075)" text-anchor="middle">700</text>
<text class="tk" style="font-size:31.6px" transform="translate(107.9 622.2) scale(1 1.07)" text-anchor="end">0</text>
<text class="tk" style="font-size:31.6px" transform="translate(107.9 504.2) scale(1 1.07)" text-anchor="end">20</text>
<text class="tk" style="font-size:31.6px" transform="translate(107.9 386.1) scale(1 1.07)" text-anchor="end">40</text>
<text class="tk" style="font-size:31.6px" transform="translate(107.9 268.1) scale(1 1.07)" text-anchor="end">60</text>
<text class="tk" style="font-size:31.6px" transform="translate(107.9 150.0) scale(1 1.07)" text-anchor="end">80</text>
<text class="tk" style="font-size:31.6px" transform="translate(107.9 32.0) scale(1 1.07)" text-anchor="end">100</text>
<text class="tk" style="font-size:32.5px" x="0" y="27.4">a)</text>
<text class="ti" x="570" y="716.3" text-anchor="middle">Temperature (<tspan font-weight="normal" dy="1.5">°</tspan><tspan dy="-1.5">C)</tspan></text>
<text class="ti" transform="translate(42.3 299.5) rotate(-90)" text-anchor="middle">Wieght loss (%)</text>
<path d="M642.2 34.2 H675.4" stroke="#808000" stroke-width="2.5" fill="none"/>
<text class="lg" x="681.4" y="42.5">PA66</text>
<path d="M643.6 70.0 H673.9" stroke="#008080" stroke-width="2.9" fill="none" stroke-linecap="round" stroke-dasharray="9.1 14.9"/>
<text class="lg" x="681.4" y="78.3">PA66-<tspan font-style="italic">g</tspan>-PVBC</text>
<path d="M642.2 110.2 H675.4" stroke="#000" stroke-width="2.6" fill="none"/>
<text class="lg" x="681.4" y="118.5">PA66-<tspan font-style="italic">g</tspan>-PVBIm (Cl<tspan font-size="14.5" dy="-9.5">-</tspan><tspan dy="9.5"> form)</tspan></text>
<path d="M643.3 146.9 H673.9" stroke="#f00" stroke-width="3.0" fill="none" stroke-linecap="round" stroke-dasharray="1 13.3"/>
<text class="lg" x="681.4" y="155.2">PA66-<tspan font-style="italic">g</tspan>-PVBIm (NFPA-Im-1).Air</text>
<path d="M643.6 183.3 H673.9" stroke="#8000ff" stroke-width="2.6" fill="none" stroke-linecap="round" stroke-dasharray="9.9 13.9"/>
<text class="lg" x="681.4" y="191.6">PA66-<tspan font-style="italic">g</tspan>-PVBIm (NFPA-Im-1).N<tspan font-size="16" dy="6">2</tspan></text>
<path d="M642.2 224.2 H675.4" stroke="#000" stroke-width="3.7" fill="none"/>
<text class="lg" x="681.4" y="232.5">PP-<tspan font-style="italic">g</tspan>-PVBIm (NFPP-Im-1).Air</text>
</g>
<g id="panel-b">
<rect class="ax" x="1159.7" y="4.3" width="753.9" height="609.7"/>
<path class="ax" d="M1229.4 602.0 V626.0M1369.0 602.0 V626.0M1508.6 602.0 V626.0M1648.2 602.0 V626.0M1787.8 602.0 V626.0M1159.6 614.0 V620.3M1299.2 614.0 V620.3M1438.8 614.0 V620.3M1578.4 614.0 V620.3M1718.0 614.0 V620.3M1857.6 614.0 V620.3M1147.7 614.0 H1171.7M1147.7 478.5 H1171.7M1147.7 342.9 H1171.7M1147.7 207.3 H1171.7M1147.7 71.8 H1171.7M1153.4 546.2 H1159.7M1153.4 410.7 H1159.7M1153.4 275.1 H1159.7M1153.4 139.6 H1159.7M1153.4 4.0 H1159.7"/>
<path class="c" d="M1160.0 433.0C1161.0 432.0 1164.2 427.2 1166.0 427.0C1167.8 426.8 1169.0 428.9 1170.8 431.5C1172.6 434.1 1174.5 439.3 1177.0 442.3C1179.5 445.3 1182.9 448.1 1186.0 449.4C1189.1 450.7 1191.3 450.4 1195.4 450.0C1199.5 449.6 1204.7 448.4 1210.8 447.0C1216.9 445.6 1226.1 442.8 1232.3 441.7C1238.5 440.6 1242.6 440.6 1247.7 440.5C1252.8 440.4 1257.9 440.8 1263.0 441.4C1268.1 441.9 1273.4 442.7 1278.5 443.8C1283.6 444.9 1288.7 446.5 1293.8 447.8C1298.9 449.1 1304.1 450.1 1309.2 451.5C1314.3 452.9 1316.9 453.8 1324.6 456.0C1332.3 458.2 1345.2 461.9 1355.4 464.5C1365.6 467.1 1375.7 469.1 1386.0 471.5C1396.3 473.9 1406.7 476.4 1417.0 478.6C1427.3 480.8 1434.7 482.1 1447.7 484.5C1460.7 486.9 1478.8 489.8 1495.0 493.0C1511.2 496.2 1528.3 500.8 1545.0 504.0C1561.7 507.2 1581.5 510.1 1595.0 512.3C1608.5 514.5 1615.5 515.7 1625.8 517.0C1636.0 518.3 1646.2 519.1 1656.5 520.0C1666.8 520.9 1677.0 521.5 1687.3 522.2C1697.5 522.9 1707.8 523.5 1718.0 524.0C1728.2 524.5 1741.1 524.8 1748.8 525.2C1756.5 525.6 1759.1 525.7 1764.2 526.5C1769.3 527.3 1775.8 529.1 1779.6 530.2C1783.4 531.3 1785.5 530.5 1787.3 533.2C1789.1 535.9 1789.4 542.0 1790.4 546.2C1791.4 550.4 1792.6 556.0 1793.5 558.5C1794.4 561.0 1794.8 561.5 1795.6 561.0C1796.3 560.5 1797.1 557.4 1798.0 555.4C1798.9 553.4 1800.0 549.5 1801.0 549.2C1802.0 548.9 1803.2 551.8 1804.2 553.8C1805.2 555.8 1805.8 558.4 1807.3 561.5C1808.8 564.6 1811.7 567.7 1813.5 572.3C1815.3 576.9 1816.8 585.4 1818.0 589.2C1819.2 593.1 1820.0 595.1 1821.0 595.4C1822.0 595.7 1823.2 594.9 1824.2 590.8C1825.2 586.7 1826.0 579.3 1827.3 570.8C1828.6 562.3 1830.5 547.7 1832.0 540.0C1833.5 532.3 1835.0 527.9 1836.5 524.6C1838.0 521.3 1837.7 521.6 1841.0 520.0C1844.3 518.4 1851.3 516.2 1856.5 514.8C1861.7 513.4 1866.9 512.3 1872.0 511.4C1877.1 510.5 1882.2 510.1 1887.3 509.2C1892.4 508.3 1898.3 507.1 1902.7 506.2C1907.1 505.3 1911.7 504.1 1913.5 503.7" stroke="#ff8000" stroke-width="2.6"/>
<path class="c" d="M1164.6 343.8C1165.4 347.9 1167.4 361.8 1169.2 368.5C1171.0 375.2 1172.6 380.2 1175.4 383.8C1178.2 387.4 1181.7 388.2 1186.0 390.0C1190.3 391.8 1193.8 392.7 1201.5 394.6C1209.2 396.5 1222.0 399.6 1232.3 401.4C1242.5 403.2 1252.8 404.5 1263.0 405.4C1273.2 406.3 1283.5 406.3 1293.8 406.6C1304.1 406.9 1314.3 407.1 1324.6 407.2C1334.9 407.3 1345.2 407.3 1355.4 407.0C1365.6 406.7 1375.7 406.0 1386.0 405.4C1396.3 404.8 1406.7 403.8 1417.0 403.2C1427.3 402.6 1433.6 401.7 1447.7 401.7C1461.8 401.7 1482.3 402.8 1501.5 403.0C1520.7 403.2 1547.6 403.3 1563.0 403.0C1578.4 402.7 1583.5 401.9 1593.8 401.4C1604.1 400.8 1614.3 400.1 1624.6 399.7C1634.9 399.3 1645.0 398.4 1655.4 398.8C1665.9 399.2 1676.9 400.4 1687.3 402.0C1697.7 403.6 1709.8 406.1 1718.0 408.3C1726.2 410.5 1730.8 412.7 1736.5 415.4C1742.2 418.1 1747.4 421.5 1752.0 424.6C1756.6 427.7 1760.6 431.1 1764.2 433.8C1767.8 436.5 1771.2 439.6 1773.5 441.0C1775.8 442.4 1776.5 442.4 1778.0 442.2C1779.5 442.0 1780.9 442.7 1782.7 440.0C1784.5 437.3 1786.8 431.4 1788.8 426.0C1790.8 420.6 1793.0 413.1 1795.0 407.7C1797.0 402.3 1799.0 397.0 1801.0 393.8C1803.0 390.6 1804.2 389.7 1807.3 388.3C1810.4 386.9 1811.4 386.3 1819.6 385.5C1827.8 384.7 1845.2 384.2 1856.5 383.7C1867.8 383.2 1877.8 382.8 1887.3 382.5C1896.8 382.2 1909.1 381.9 1913.5 381.8" stroke="#008080" stroke-width="2.6"/>
<path class="c" d="M1164.0 353.7C1164.6 358.2 1166.3 373.2 1167.7 380.8C1169.1 388.4 1170.5 394.8 1172.3 399.2C1174.1 403.6 1173.6 403.4 1178.5 407.0C1183.4 410.6 1192.5 415.7 1201.5 420.8C1210.5 425.9 1222.0 432.2 1232.3 437.7C1242.5 443.2 1255.3 450.3 1263.0 454.0C1270.7 457.7 1273.4 458.4 1278.5 459.8C1283.6 461.2 1288.7 462.1 1293.8 462.3C1298.9 462.5 1304.1 462.1 1309.2 460.8C1314.3 459.5 1319.5 457.4 1324.6 454.6C1329.7 451.8 1334.9 447.7 1340.0 443.8C1345.1 439.9 1350.3 435.5 1355.4 431.5C1360.5 427.5 1365.7 423.1 1370.8 419.8C1375.9 416.5 1380.9 413.6 1386.0 411.5C1391.1 409.4 1396.3 408.0 1401.5 407.0C1406.7 406.0 1409.3 405.8 1417.0 405.4C1424.7 405.0 1433.6 404.7 1447.7 404.5C1461.8 404.3 1482.3 403.5 1501.5 404.2C1520.7 404.9 1547.4 407.4 1563.0 408.5C1578.6 409.6 1584.5 409.7 1595.0 410.5C1605.5 411.3 1615.5 412.3 1625.8 413.5C1636.0 414.7 1646.2 415.6 1656.5 417.7C1666.8 419.8 1678.6 422.9 1687.3 426.0C1696.0 429.1 1702.1 431.8 1708.8 436.0C1715.5 440.2 1721.6 444.9 1727.3 451.0C1733.0 457.1 1738.1 465.9 1742.7 472.3C1747.3 478.7 1751.4 484.6 1755.0 489.2C1758.6 493.8 1761.9 497.9 1764.2 500.0C1766.5 502.1 1767.2 502.0 1768.8 502.0C1770.3 502.0 1772.0 501.9 1773.5 500.0C1775.0 498.1 1777.0 493.9 1778.0 490.8C1779.0 487.7 1779.3 483.1 1779.6 481.5L1780.2 470 L1780.2 378.5 L1780.0 378.0C1782.5 377.5 1788.3 375.4 1795.0 375.0C1801.7 374.6 1811.7 375.8 1820.0 375.5C1828.3 375.2 1835.8 373.8 1845.0 373.0C1854.2 372.2 1866.7 371.3 1875.0 371.0C1883.3 370.7 1888.7 370.8 1895.0 371.0C1901.3 371.2 1910.0 371.8 1913.0 372.0" stroke="#000" stroke-width="2.6"/>
<path class="c" d="M1164.6 343.8C1165.0 340.7 1166.2 330.1 1167.0 325.0C1167.8 319.9 1168.5 313.0 1169.2 313.0C1170.0 313.0 1170.7 320.4 1171.5 325.0C1172.3 329.6 1172.6 334.3 1173.8 340.8C1175.0 347.3 1176.5 357.7 1178.5 363.8C1180.5 369.9 1182.2 373.1 1186.0 377.7C1189.8 382.3 1196.3 386.9 1201.5 391.5C1206.7 396.1 1211.9 400.9 1217.0 405.4C1222.1 409.9 1227.2 414.3 1232.3 418.6C1237.4 422.9 1242.6 427.1 1247.7 431.0C1252.8 434.9 1257.9 438.3 1263.0 441.7C1268.1 445.1 1273.4 448.3 1278.5 451.5C1283.6 454.7 1288.7 458.0 1293.8 460.8C1298.9 463.6 1304.1 466.5 1309.2 468.5C1314.3 470.5 1320.0 472.1 1324.6 473.0C1329.2 473.9 1332.9 474.2 1337.0 474.0C1341.1 473.8 1345.1 472.9 1349.2 471.5C1353.3 470.1 1357.4 468.0 1361.5 465.4C1365.6 462.8 1369.7 459.6 1373.8 456.0C1377.9 452.4 1381.4 448.4 1386.0 443.8C1390.6 439.2 1396.3 433.1 1401.5 428.5C1406.7 423.9 1411.9 419.6 1417.0 416.0C1422.1 412.4 1427.2 410.2 1432.3 407.0C1437.4 403.8 1441.3 401.1 1447.7 397.0C1454.1 392.9 1461.8 389.4 1470.8 382.3C1479.8 375.2 1491.2 364.9 1501.5 354.6C1511.8 344.4 1524.1 330.4 1532.3 320.8C1540.5 311.2 1544.1 305.6 1550.8 297.0C1557.5 288.4 1566.1 275.9 1572.3 269.2C1578.5 262.5 1583.1 259.7 1587.7 257.0C1592.3 254.3 1595.9 253.7 1600.0 253.2C1604.1 252.7 1608.2 253.1 1612.3 253.8C1616.4 254.5 1620.5 256.4 1624.6 257.5C1628.7 258.6 1632.9 259.8 1637.0 260.3C1641.1 260.8 1644.1 260.7 1649.2 260.3C1654.3 259.9 1661.6 258.5 1667.7 257.8C1673.8 257.1 1680.9 257.1 1686.0 256.3C1691.1 255.5 1693.9 254.8 1698.5 253.2C1703.1 251.6 1708.7 249.4 1713.8 247.0C1718.9 244.6 1723.5 242.5 1729.2 238.5C1734.9 234.5 1742.6 227.2 1747.7 223.0C1752.8 218.8 1757.0 215.4 1760.0 213.2C1763.0 211.0 1763.4 210.7 1766.0 209.8C1768.6 208.9 1772.8 208.3 1775.4 207.7C1778.0 207.1 1779.5 207.5 1781.5 206.0C1783.5 204.5 1785.9 202.3 1787.7 198.5C1789.5 194.7 1790.8 190.2 1792.3 183.0C1793.8 175.8 1795.5 165.1 1797.0 155.4C1798.5 145.7 1800.2 132.0 1801.5 124.6C1802.8 117.2 1803.8 114.5 1805.0 110.8C1806.2 107.1 1806.9 104.5 1808.8 102.3C1810.7 100.1 1812.6 99.0 1816.5 97.7C1820.4 96.4 1826.9 96.0 1832.0 94.6C1837.1 93.2 1842.2 91.6 1847.3 89.2C1852.4 86.8 1858.1 83.6 1862.7 80.0C1867.3 76.4 1871.2 72.3 1875.0 67.7C1878.8 63.1 1882.2 58.2 1885.8 52.3C1889.4 46.4 1893.4 38.2 1896.5 32.3C1899.6 26.4 1901.9 21.7 1904.2 17.0C1906.5 12.3 1909.4 6.4 1910.4 4.3" stroke="#00f" stroke-width="2.6"/>
<path d="M1258.5 301.0 V378.8" stroke="#008080" stroke-width="2.6" fill="none"/>
<path d="M1253.4 376.8 L1263.6 376.8 L1258.5 396.8 Z" fill="#008080"/>
<path d="M1186.6 550.5 V473.5" stroke="#ff8000" stroke-width="2.6" fill="none"/>
<path d="M1181.5 475.5 L1191.7 475.5 L1186.6 455.5 Z" fill="#ff8000"/>
<path d="M1292.8 543.5 V482.5" stroke="#000" stroke-width="2.6" fill="none"/>
<path d="M1287.7 484.5 L1297.9 484.5 L1292.8 464.5 Z" fill="#000"/>
<path d="M1333.3 553.8 V493.8" stroke="#00f" stroke-width="2.6" fill="none"/>
<path d="M1328.2 495.8 L1338.4 495.8 L1333.3 475.8 Z" fill="#00f"/>
<text class="tk" style="font-size:30.8px" transform="translate(1229.9 659.4) scale(1 1.117)" text-anchor="middle">50</text>
<text class="tk" style="font-size:30.8px" transform="translate(1369.5 659.4) scale(1 1.117)" text-anchor="middle">100</text>
<text class="tk" style="font-size:30.8px" transform="translate(1509.1 659.4) scale(1 1.117)" text-anchor="middle">150</text>
<text class="tk" style="font-size:30.8px" transform="translate(1648.7 659.4) scale(1 1.117)" text-anchor="middle">200</text>
<text class="tk" style="font-size:30.8px" transform="translate(1788.3 659.4) scale(1 1.117)" text-anchor="middle">250</text>
<text class="tk" style="font-size:33px" transform="translate(1140.2 623.8) scale(1 1.03)" text-anchor="end">-4</text>
<text class="tk" style="font-size:33px" transform="translate(1140.2 488.3) scale(1 1.03)" text-anchor="end">-2</text>
<text class="tk" style="font-size:33px" transform="translate(1140.2 352.7) scale(1 1.03)" text-anchor="end">0</text>
<text class="tk" style="font-size:33px" transform="translate(1140.2 217.1) scale(1 1.03)" text-anchor="end">2</text>
<text class="tk" style="font-size:33px" transform="translate(1140.2 81.6) scale(1 1.03)" text-anchor="end">4</text>
<text class="tk" style="font-size:32.5px" x="1057.5" y="30.3">b)</text>
<text class="ti" x="1537.5" y="716.3" text-anchor="middle">Temperature (<tspan font-weight="normal" dy="1.5">°</tspan><tspan dy="-1.5">C)</tspan></text>
<text class="ti" transform="translate(1075.9 299.5) rotate(-90)" text-anchor="middle">Heat Flow (W/g)</text>
<path d="M1194 54.8 H1247" stroke="#ff8000" stroke-width="2.2" fill="none"/>
<text class="lg" x="1252.9" y="62.9">PA66</text>
<path d="M1194 90.9 H1247" stroke="#008080" stroke-width="2.2" fill="none"/>
<text class="lg" x="1252.9" y="99.4">PA66-<tspan font-style="italic">g</tspan>-PVBC</text>
<path d="M1194 130.5 H1247" stroke="#000" stroke-width="2.2" fill="none"/>
<text class="lg" x="1252.9" y="139.4">PA66-<tspan font-style="italic">g</tspan>-PVBIm(Cl<tspan font-size="14.5" dy="-9.5">-</tspan><tspan dy="9.5"> form)</tspan></text>
<path d="M1194 166.9 H1247" stroke="#00f" stroke-width="2.2" fill="none"/>
<text class="lg" x="1252.9" y="175.1">PA66-<tspan font-style="italic">g</tspan>-PVBIm(NFPA-Im-1)</text>
</g>
</svg></body></html>
